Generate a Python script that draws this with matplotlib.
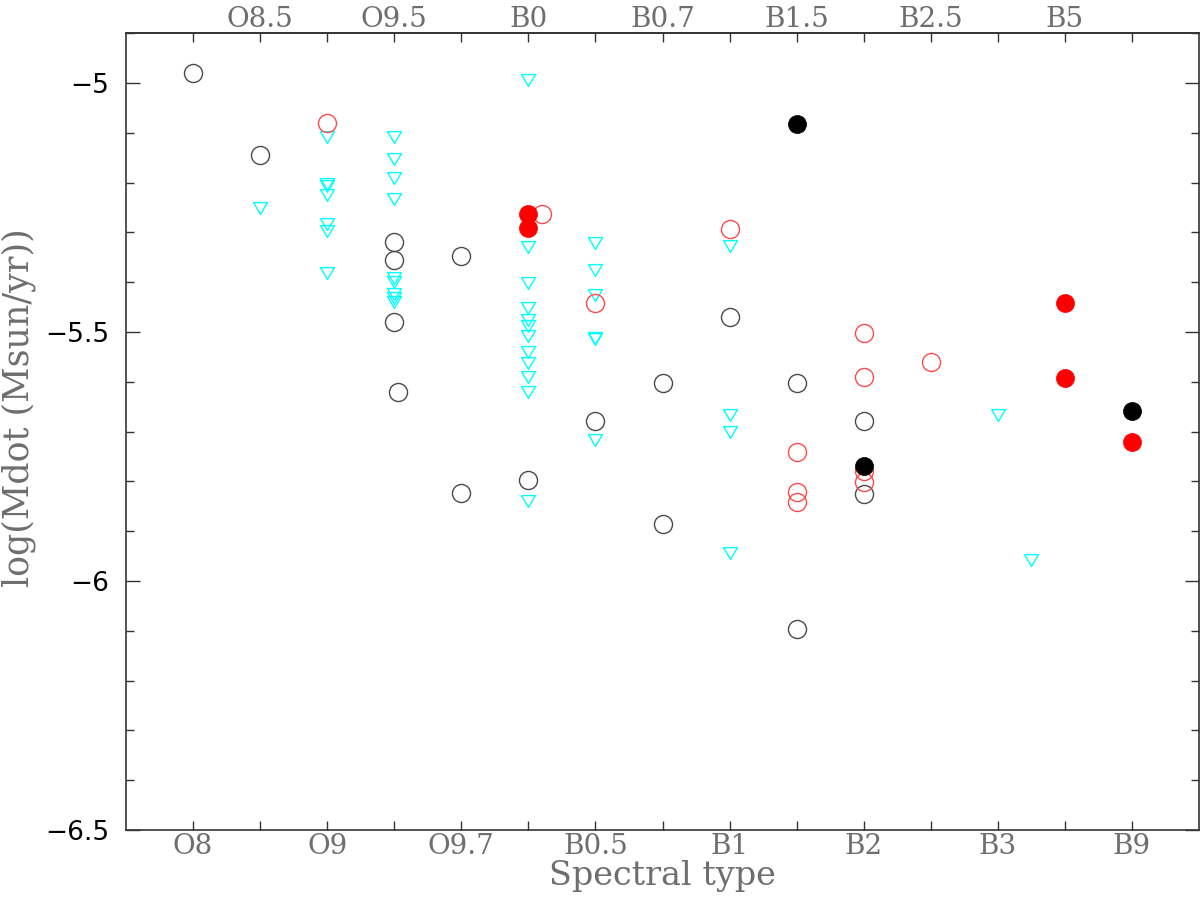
import numpy as np
import matplotlib
matplotlib.use("Agg")
import matplotlib.pyplot as plt
from matplotlib.ticker import MultipleLocator, FuncFormatter

# ---- data ----
bottom_labels = ["O8", "O9", "O9.7", "B0.5", "B1", "B2", "B3", "B9"]
top_labels = ["O8.5", "O9.5", "B0", "B0.7", "B1.5", "B2.5", "B5"]

# black open circles
bo_x = [0, 1, 3, 3, 3, 3.05, 4, 4, 5, 6, 7, 7, 8, 9, 9, 10, 10]
bo_y = [-4.98, -5.145, -5.32, -5.355, -5.48, -5.62, -5.347, -5.823, -5.797,
        -5.678, -5.602, -5.886, -5.469, -5.603, -6.097, -5.679, -5.825]

# black filled circles
bf_x = [9, 10, 14]
bf_y = [-5.082, -5.77, -5.659]

# red open circles
ro_x = [2, 5.2, 6, 8, 9, 9, 9, 10, 10, 10, 10, 11]
ro_y = [-5.08, -5.262, -5.441, -5.294, -5.740, -5.821, -5.841,
        -5.501, -5.591, -5.780, -5.801, -5.56]

# red filled circles
rf_x = [5, 5, 13, 13, 14]
rf_y = [-5.262, -5.292, -5.442, -5.592, -5.721]

# cyan down-triangles (upper limits)
ct_x = ([1]
        + [2] * 7
        + [3] * 9
        + [5] * 12
        + [6] * 6
        + [8] * 4
        + [12, 12.5])
ct_y = ([-5.250]
        + [-5.108, -5.203, -5.207, -5.224, -5.283, -5.297, -5.382]
        + [-5.108, -5.153, -5.191, -5.232, -5.391, -5.400, -5.424, -5.431, -5.440]
        + [-4.993, -5.329, -5.402, -5.452, -5.476, -5.488, -5.508, -5.540,
           -5.563, -5.590, -5.620, -5.839]
        + [-5.321, -5.375, -5.426, -5.511, -5.514, -5.717]
        + [-5.327, -5.666, -5.700, -5.944]
        + [-5.667, -5.958])

# ---- figure ----
fig = plt.figure(figsize=(12, 9.05), dpi=100)
ax = fig.add_axes([0.105, 0.0829, 0.8942, 0.8803])

tri = [(-1, 0.85), (1, 0.85), (0, -0.85), (-1, 0.85)]

ax.plot(ct_x, ct_y, linestyle="none", marker=tri, markersize=10,
        markerfacecolor="none", markeredgecolor="#00ffff", markeredgewidth=1.0)
ax.plot(bo_x, bo_y, linestyle="none", marker="o", markersize=13,
        markerfacecolor="none", markeredgecolor="#4a4a4a", markeredgewidth=1.0)
ax.plot(ro_x, ro_y, linestyle="none", marker="o", markersize=13,
        markerfacecolor="none", markeredgecolor="#ff4a4a", markeredgewidth=1.0)
ax.plot(rf_x, rf_y, linestyle="none", marker="o", markersize=13,
        markerfacecolor="red", markeredgecolor="red", markeredgewidth=0.5)
ax.plot(bf_x, bf_y, linestyle="none", marker="o", markersize=13,
        markerfacecolor="black", markeredgecolor="black", markeredgewidth=0.5)

ax.set_xlim(-1, 15)
ax.set_ylim(-6.5, -4.9)

grey = "#6e6e6e"
serif = ["DejaVu Serif"]

# x axis: bottom labels at even positions, top labels at odd positions
n = len(bottom_labels) + len(top_labels)
ax.set_xticks(range(n))
ax.set_xticklabels([bottom_labels[i // 2] if i % 2 == 0 else "" for i in range(n)],
                   family=serif, fontsize=20, color=grey)
ax.tick_params(axis="x", which="major", direction="in", length=6.5, width=1.0,
               top=False, bottom=True, pad=2, color="#333333")

sec = ax.secondary_xaxis("top")
sec.set_xticks(range(n))
sec.set_xticklabels([top_labels[i // 2] if i % 2 == 1 else "" for i in range(n)],
                    family=serif, fontsize=20, color=grey)
sec.tick_params(axis="x", direction="in", length=6.5, width=1.0, pad=0.5, color="#333333")
sec.spines["top"].set_linewidth(1.2)
sec.spines["top"].set_color("#333333")

# y axis
ax.yaxis.set_major_locator(MultipleLocator(0.5))
ax.yaxis.set_minor_locator(MultipleLocator(0.1))
ax.yaxis.set_major_formatter(FuncFormatter(lambda v, p: ("%g" % v).replace("-", "\u2212")))
ax.tick_params(axis="y", which="major", direction="in", length=10, width=1.0,
               left=True, right=True, labelsize=19, pad=12, color="#333333")
ax.tick_params(axis="y", which="minor", direction="in", length=6, width=1.0,
               left=True, right=True, color="#333333")
for lab in ax.get_yticklabels():
    lab.set_family("DejaVu Sans")
    lab.set_color("black")

for s in ax.spines.values():
    s.set_linewidth(1.2)
    s.set_color("#333333")

ax.set_xlabel("Spectral type", family=serif, fontsize=24, color=grey)
ax.xaxis.set_label_coords(0.5, -0.038)
ax.xaxis.label.set_verticalalignment("top")

ax.set_ylabel("log(Mdot (Msun/yr))", family=serif, fontsize=25, color=grey)
ax.yaxis.set_label_coords(-0.084, 0.53)

fig.savefig("out.png", dpi=100)
